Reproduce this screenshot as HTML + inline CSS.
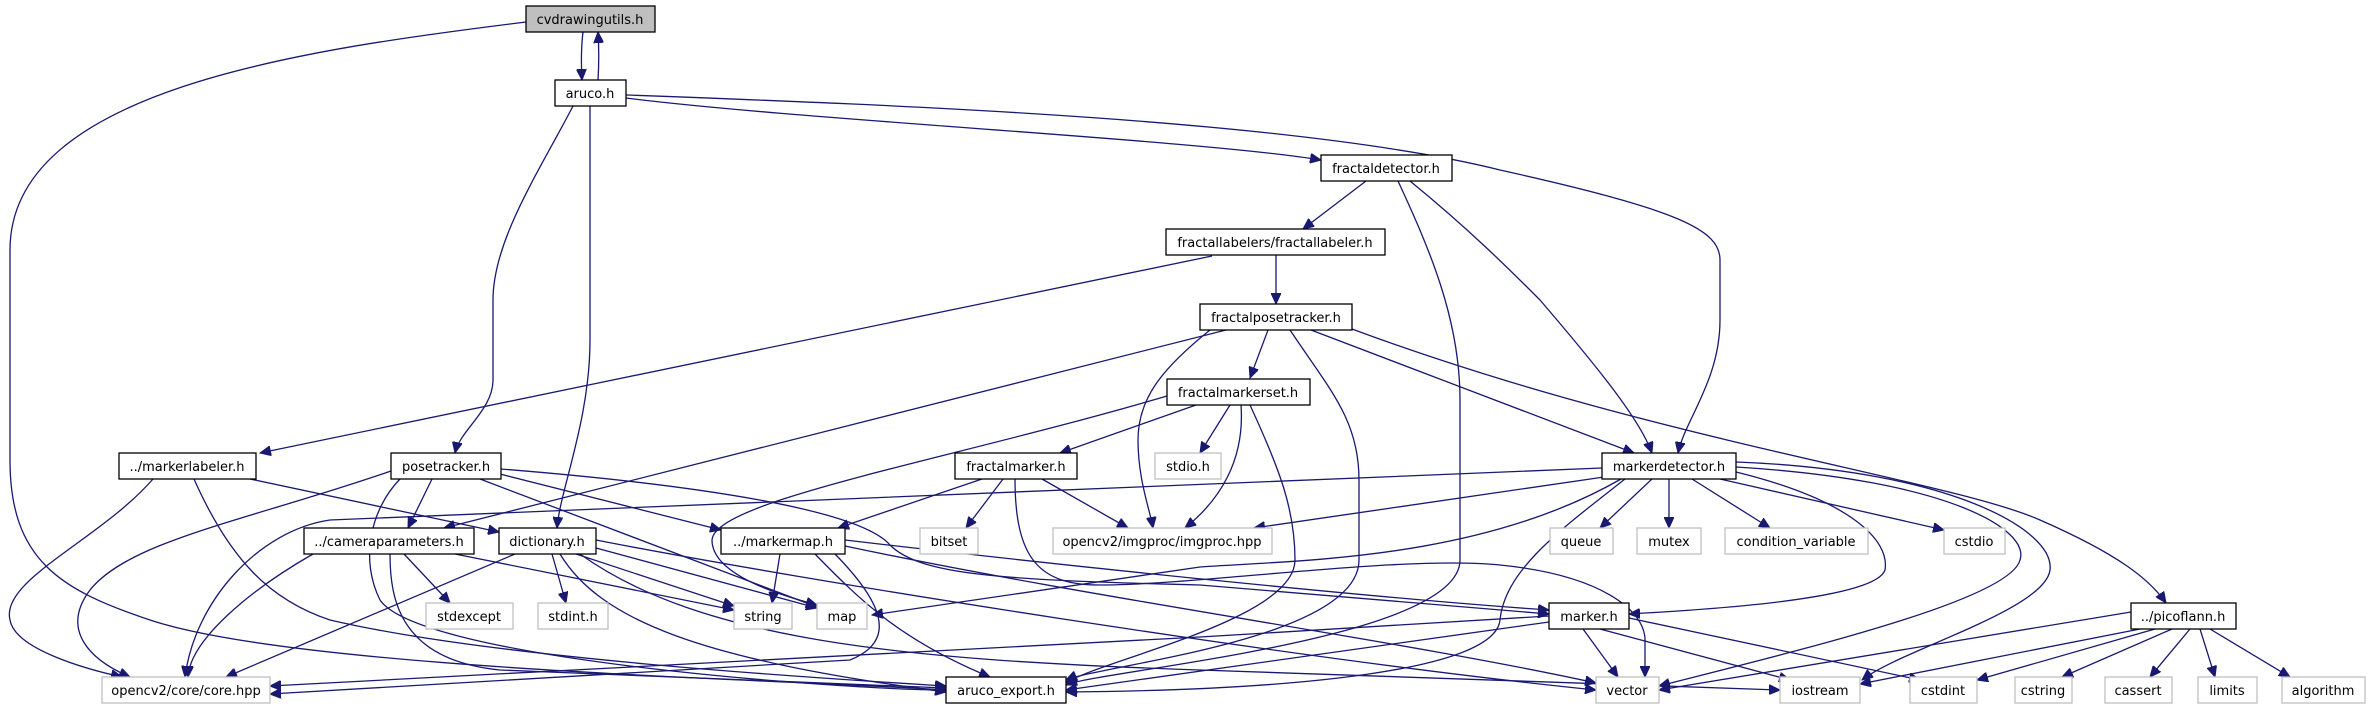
<!DOCTYPE html>
<html><head><meta charset="utf-8"><style>
html,body{margin:0;padding:0;background:#fff;}
svg{display:block}
text{font-family:"DejaVu Sans","Liberation Sans",sans-serif;font-size:13px;fill:#000;text-anchor:middle}
.e{fill:none;stroke:#191970;stroke-width:1.3}
.n{fill:#fff;stroke:#000;stroke-width:1.3}
.g{fill:#fff;stroke:#bfbfbf;stroke-width:1.3}
</style></head><body>
<svg width="2372" height="709" viewBox="0 0 2372 709" xmlns="http://www.w3.org/2000/svg">
<defs><marker id="a" markerWidth="12" markerHeight="10" refX="11" refY="5" orient="auto" markerUnits="userSpaceOnUse"><path d="M0,0 L11,5 L0,10 z" fill="#191970" stroke="#191970"/></marker></defs>
<g class="e" marker-end="url(#a)">
<path d="M583,32 C581,48 581,62 582,80"/>
<path d="M598,80 C599,64 599,48 598,32"/>
<path d="M526,22 C300,50 10,90 10,250 L10,460 C10,560 60,590 150,620 C300,670 800,680 946,690"/>
<path d="M573,106 C540,170 493,240 493,300 L493,380 C493,410 460,430 455,453"/>
<path d="M590,106 L590,340 C590,420 560,490 557,528"/>
<path d="M626,98 C800,120 1200,140 1321,160"/>
<path d="M626,95 C900,105 1300,120 1500,170 C1680,210 1720,230 1720,260 L1720,320 C1720,380 1685,420 1678,453"/>
<path d="M1366,181 L1303,229"/>
<path d="M1398,181 C1430,250 1460,320 1460,400 L1460,560 C1460,640 1100,670 1066,685"/>
<path d="M1410,181 C1470,230 1510,270 1540,300 C1600,370 1640,420 1652,453"/>
<path d="M1276,255 L1276,304"/>
<path d="M1212,256 L260,453"/>
<path d="M1268,330 L1250,378"/>
<path d="M1226,330 L444,528"/>
<path d="M1210,330 C1160,370 1138,400 1138,440 C1138,480 1150,510 1153,528"/>
<path d="M1290,330 C1330,390 1359,420 1359,480 L1359,560 C1359,640 1100,665 1066,680"/>
<path d="M1311,330 L1634,453"/>
<path d="M1352,329 C1650,440 1950,480 2040,520 C2120,555 2150,580 2166,603"/>
<path d="M1196,405 L1060,453"/>
<path d="M1230,405 L1200,453"/>
<path d="M1241,405 C1245,460 1220,500 1185,528"/>
<path d="M1250,405 C1280,470 1295,510 1295,560 C1295,620 1100,660 1066,683"/>
<path d="M1167,396 C950,460 715,500 712,540 C712,575 780,595 817,605"/>
<path d="M982,479 L838,528"/>
<path d="M1003,479 L966,528"/>
<path d="M1042,479 L1128,528"/>
<path d="M1015,479 C1015,560 1040,585 1100,585 C1200,585 1400,555 1500,565 C1600,575 1645,610 1645,640 L1645,677"/>
<path d="M1602,468 L330,520 C260,530 195,600 185,677"/>
<path d="M1604,477 L1254,528"/>
<path d="M1621,479 C1480,560 1300,560 1200,567 L872,615"/>
<path d="M1625,479 C1560,530 1505,570 1500,620 C1495,670 1300,690 1066,692"/>
<path d="M1652,479 L1600,528"/>
<path d="M1669,479 L1669,528"/>
<path d="M1692,479 L1770,528"/>
<path d="M1720,479 L1944,530"/>
<path d="M1736,472 C1850,500 1890,540 1885,570 C1875,600 1700,610 1629,614"/>
<path d="M1736,467 C1950,480 2030,530 2020,560 C2010,600 1800,650 1659,686"/>
<path d="M1736,462 C1950,470 2055,530 2050,570 C2045,610 1900,650 1862,680"/>
<path d="M432,479 L408,528"/>
<path d="M500,474 L721,530"/>
<path d="M480,479 L817,607"/>
<path d="M501,469 C700,485 860,510 890,545 C920,575 1000,580 1200,585 L1549,614"/>
<path d="M391,471 C250,520 130,540 90,590 C60,630 90,660 130,677"/>
<path d="M400,479 C370,510 360,560 380,600 C420,660 850,690 946,690"/>
<path d="M153,479 C100,540 0,580 10,620 C15,650 90,670 122,677"/>
<path d="M194,479 C230,560 270,600 330,620 C500,660 850,680 946,686"/>
<path d="M250,479 L499,532"/>
<path d="M313,554 C250,590 190,640 188,677"/>
<path d="M404,554 L450,603"/>
<path d="M455,554 L734,610"/>
<path d="M390,554 C390,600 400,660 500,670 L946,688"/>
<path d="M515,554 L226,677"/>
<path d="M552,554 L566,603"/>
<path d="M576,554 L734,606"/>
<path d="M596,548 L817,608"/>
<path d="M560,554 C600,620 700,660 946,692"/>
<path d="M596,540 C800,580 1300,660 1596,690"/>
<path d="M580,554 C700,640 900,660 1200,670 L1780,690"/>
<path d="M780,554 L772,603"/>
<path d="M815,554 C860,600 900,640 990,677"/>
<path d="M835,554 C880,600 900,640 850,660 L270,694"/>
<path d="M845,540 C1100,570 1400,600 1549,610"/>
<path d="M845,546 C1100,600 1400,640 1596,683"/>
<path d="M1549,616 L1200,637 L270,686"/>
<path d="M1549,622 L1066,690"/>
<path d="M1583,629 L1618,677"/>
<path d="M1600,629 L1790,680"/>
<path d="M1629,618 L1920,680"/>
<path d="M2131,612 L1659,690"/>
<path d="M2140,629 L1860,684"/>
<path d="M2155,629 L1977,680"/>
<path d="M2172,629 L2062,677"/>
<path d="M2190,629 L2150,677"/>
<path d="M2200,629 L2215,677"/>
<path d="M2210,629 L2290,677"/>
</g>
<g>
<rect x="526" y="6" width="129" height="26" fill="#bfbfbf" stroke="#000" stroke-width="1.3"/><text x="590" y="24">cvdrawingutils.h</text>
<rect class="n" x="555" y="80" width="71" height="26"/><text x="590" y="98">aruco.h</text>
<rect class="n" x="1321" y="155" width="131" height="26"/><text x="1386" y="173">fractaldetector.h</text>
<rect class="n" x="1166" y="229" width="219" height="26"/><text x="1275" y="247">fractallabelers/fractallabeler.h</text>
<rect class="n" x="1200" y="304" width="152" height="26"/><text x="1276" y="322">fractalposetracker.h</text>
<rect class="n" x="1167" y="379" width="143" height="26"/><text x="1238" y="397">fractalmarkerset.h</text>
<rect class="n" x="119" y="453" width="137" height="26"/><text x="187" y="471">../markerlabeler.h</text>
<rect class="n" x="391" y="453" width="110" height="26"/><text x="446" y="471">posetracker.h</text>
<rect class="n" x="955" y="453" width="122" height="26"/><text x="1016" y="471">fractalmarker.h</text>
<rect class="g" x="1155" y="453" width="66" height="26"/><text x="1188" y="471">stdio.h</text>
<rect class="n" x="1602" y="453" width="134" height="26"/><text x="1669" y="471">markerdetector.h</text>
<rect class="n" x="304" y="528" width="170" height="26"/><text x="389" y="546">../cameraparameters.h</text>
<rect class="n" x="499" y="528" width="97" height="26"/><text x="547" y="546">dictionary.h</text>
<rect class="n" x="721" y="528" width="124" height="26"/><text x="783" y="546">../markermap.h</text>
<rect class="g" x="920" y="528" width="58" height="26"/><text x="949" y="546">bitset</text>
<rect class="g" x="1053" y="528" width="219" height="26"/><text x="1162" y="546">opencv2/imgproc/imgproc.hpp</text>
<rect class="g" x="1550" y="528" width="63" height="26"/><text x="1581" y="546">queue</text>
<rect class="g" x="1637" y="528" width="64" height="26"/><text x="1669" y="546">mutex</text>
<rect class="g" x="1725" y="528" width="143" height="26"/><text x="1796" y="546">condition_variable</text>
<rect class="g" x="1944" y="528" width="61" height="26"/><text x="1974" y="546">cstdio</text>
<rect class="g" x="426" y="603" width="87" height="26"/><text x="469" y="621">stdexcept</text>
<rect class="g" x="538" y="603" width="70" height="26"/><text x="573" y="621">stdint.h</text>
<rect class="g" x="734" y="603" width="58" height="26"/><text x="763" y="621">string</text>
<rect class="g" x="817" y="603" width="50" height="26"/><text x="842" y="621">map</text>
<rect class="n" x="1549" y="603" width="80" height="26"/><text x="1589" y="621">marker.h</text>
<rect class="n" x="2131" y="603" width="105" height="26"/><text x="2183" y="621">../picoflann.h</text>
<rect class="g" x="102" y="677" width="168" height="26"/><text x="186" y="695">opencv2/core/core.hpp</text>
<rect class="n" x="946" y="677" width="120" height="26"/><text x="1006" y="695">aruco_export.h</text>
<rect class="g" x="1596" y="677" width="63" height="26"/><text x="1627" y="695">vector</text>
<rect class="g" x="1780" y="677" width="80" height="26"/><text x="1820" y="695">iostream</text>
<rect class="g" x="1910" y="677" width="67" height="26"/><text x="1943" y="695">cstdint</text>
<rect class="g" x="2015" y="677" width="57" height="26"/><text x="2043" y="695">cstring</text>
<rect class="g" x="2105" y="677" width="67" height="26"/><text x="2138" y="695">cassert</text>
<rect class="g" x="2198" y="677" width="59" height="26"/><text x="2227" y="695">limits</text>
<rect class="g" x="2282" y="677" width="83" height="26"/><text x="2323" y="695">algorithm</text>
</g>
</svg>
</body></html>
